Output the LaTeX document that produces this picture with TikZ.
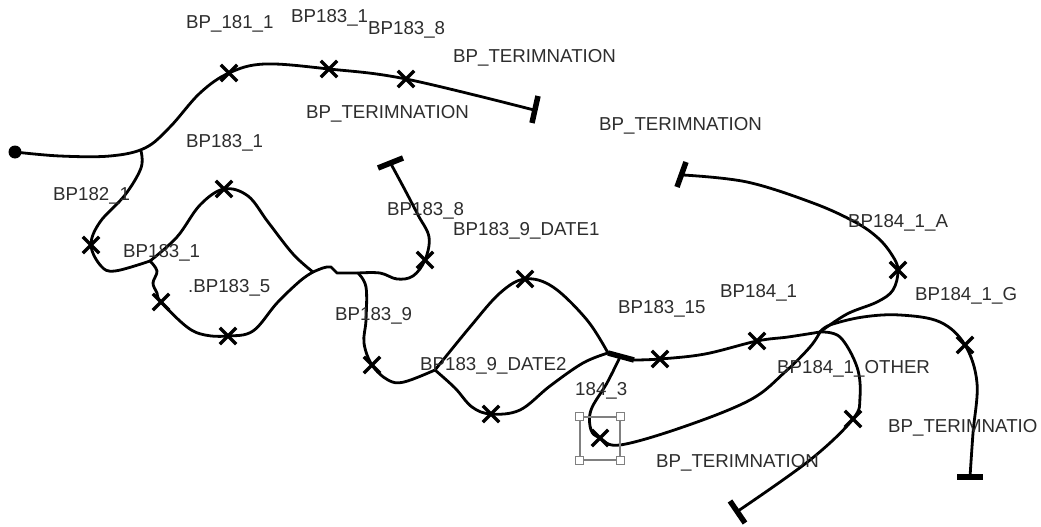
\documentclass[tikz,border=0pt]{standalone}
\usepackage{fontspec}
\setmainfont{Liberation Sans}
\usetikzlibrary{shapes.misc}
\definecolor{txt}{RGB}{45,45,45}
\definecolor{selgray}{RGB}{128,128,128}
\begin{document}
\begin{tikzpicture}[x=1pt,y=-1pt,
  wire/.style={line width=2.8pt, line cap=round, line join=round},
  termbar/.style={line width=5.5pt},
  xm/.style={draw, cross out, minimum size=13pt, inner sep=0pt, line width=3.4pt},
  lbl/.style={anchor=base west, inner sep=0pt, text=txt, font=\fontsize{18.7}{20}\selectfont},
  handle/.style={draw=selgray, fill=white, line width=1.3pt, minimum size=8pt, inner sep=0pt},
  smoothplot/.style={smooth, tension=0.6}]
\fill[white] (0,0) rectangle (1041,527);
\useasboundingbox (0,0) rectangle (1041,527);

% junctions and ends
\coordinate (S) at (15,152);
\coordinate (J1) at (150,261);
\coordinate (J2) at (313,272);
\coordinate (J3) at (358,273);
\coordinate (J4) at (435,370);
\coordinate (T1) at (608,353);
\coordinate (T2) at (634,360);
\coordinate (T3) at (620,357);
\coordinate (J5) at (820,332);
\coordinate (E1) at (534,110);
\coordinate (E2) at (391,164);
\coordinate (E3) at (683,175);
\coordinate (E4) at (970,477);
\coordinate (E5) at (738,511);
\coordinate (B1) at (141,151);

% marker positions
\coordinate (m1) at (229,73);
\coordinate (m2) at (329,69);
\coordinate (m3) at (406,79);
\coordinate (m4) at (91,245);
\coordinate (m5) at (224,189);
\coordinate (m6) at (161,302);
\coordinate (m7) at (228,336);
\coordinate (m8) at (425,260);
\coordinate (m9) at (372,365);
\coordinate (m10) at (525,279);
\coordinate (m11) at (491,414);
\coordinate (m12) at (660,359);
\coordinate (m13) at (757,341);
\coordinate (m14) at (600,438);
\coordinate (m15) at (898,270);
\coordinate (m16) at (965,345);
\coordinate (m17) at (853,419);

% wires
\draw[wire] plot[smoothplot] coordinates {(S) (60,156) (110,156) (145,148) (170,127) (200,93) (m1) (265,64) (m2) (m3) (E1)};
\draw[wire] plot[smoothplot] coordinates {(B1) (141,168) (125,195) (100,222) (m4) (101,266) (115,271) (J1)};
\draw[wire] plot[smoothplot] coordinates {(J1) (177,237) (200,205) (m5) (248,196) (268,222) (293,254) (J2)};
\draw[wire] plot[smoothplot] coordinates {(J1) (157,271) (153,283) (157,293) (m6) (187,327) (205,335) (m7) (253,331) (277,303) (300,281) (J2)};
\draw[wire] (J2) .. controls (320,269) and (326,266) .. (331,267) -- (337,273) -- (J3);
\draw[wire] plot[smoothplot] coordinates {(J3) (380,273) (397,279) (413,276) (m8) (429,237) (418,215) (405,190) (E2)};
\draw[wire] plot[smoothplot] coordinates {(J3) (366,287) (366,320) (364,343) (m9) (388,380) (404,382) (J4)};
\draw[wire] plot[smoothplot] coordinates {(J4) (470,327) (500,293) (m10) (553,287) (587,320) (T1)};
\draw[wire] plot[smoothplot] coordinates {(J4) (455,388) (472,407) (m11) (520,410) (550,386) (583,363) (T1)};
\draw[termbar] (T1) -- (T2);
\draw[wire] plot[smoothplot] coordinates {(T2) (m12) (705,354) (m13) (788,337) (J5)};
\draw[wire] plot[smoothplot] coordinates {(T3) (607,383) (591,410) (591,430) (m14) (620,445) (683,427) (750,400) (785,372) (810,347) (J5)};
\draw[wire] plot[smoothplot] coordinates {(J5) (847,314) (877,302) (893,290) (m15) (892,255) (878,238) (855,222) (813,203) (747,182) (E3)};
\draw[wire] plot[smoothplot] coordinates {(J5) (830,325) (863,317) (900,315) (940,322) (m16) (977,383) (973,433) (E4)};
\draw[wire] plot[smoothplot] coordinates {(J5) (840,337) (857,367) (860,397) (m17) (810,460) (E5)};

% termination bars
\draw[termbar] (538,96) -- (532,123);
\draw[termbar] (378,168) -- (403,158);
\draw[termbar] (677,187) -- (686,162);
\draw[termbar] (957,477) -- (983,477);
\draw[termbar] (730,501) -- (745,523);

% start dot
\fill (S) circle (6.5pt);

% markers
\foreach \m in {m1,m2,m3,m4,m5,m6,m7,m8,m9,m10,m11,m12,m13,m14,m15,m16,m17}
  \node[xm] (x\m) at (\m) {};

% selection box
\node[draw=selgray, line width=1.6pt, minimum width=40pt, minimum height=43pt, inner sep=0pt] (sel) at (600,438.5) {};
\node[handle] (h1) at (sel.north west) {};
\node[handle] (h2) at (sel.north east) {};
\node[handle] (h3) at (sel.south west) {};
\node[handle] (h4) at (sel.south east) {};

% labels
\node[lbl] (l1) at (186,29) {BP\_181\_1};
\node[lbl] (l2) at (291,23) {BP183\_1};
\node[lbl] (l3) at (368,35) {BP183\_8};
\node[lbl] (l4) at (453,63) {BP\_TERIMNATION};
\node[lbl] (l5) at (306,118) {BP\_TERIMNATION};
\node[lbl] (l6) at (186,147) {BP183\_1};
\node[lbl] (l7) at (599,130) {BP\_TERIMNATION};
\node[lbl] (l8) at (53,200) {BP182\_1};
\node[lbl] (l9) at (123,257) {BP183\_1};
\node[lbl] (l10) at (188,292) {.BP183\_5};
\node[lbl] (l11) at (387,215) {BP183\_8};
\node[lbl] (l12) at (453,235) {BP183\_9\_DATE1};
\node[lbl] (l13) at (335,320) {BP183\_9};
\node[lbl] (l14) at (420,370) {BP183\_9\_DATE2};
\node[lbl] (l15) at (618,313) {BP183\_15};
\node[lbl] (l16) at (720,297) {BP184\_1};
\node[lbl] (l17) at (848,227) {BP184\_1\_A};
\node[lbl] (l18) at (915,300) {BP184\_1\_G};
\node[lbl] (l19) at (777,373) {BP184\_1\_OTHER};
\node[lbl] (l20) at (575,395) {184\_3};
\node[lbl] (l21) at (656,467) {BP\_TERIMNATION};
\node[lbl] (l22) at (888,432) {BP\_TERIMNATIO};
\end{tikzpicture}
\end{document}
